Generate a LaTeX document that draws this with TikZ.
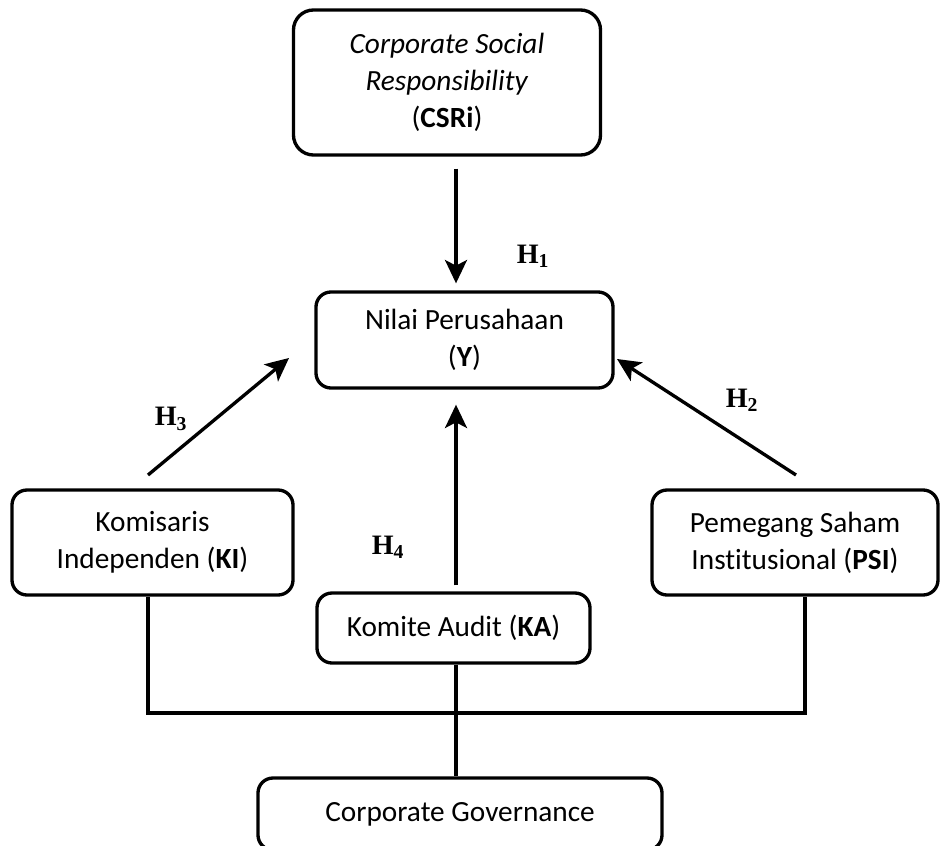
\documentclass[tikz,border=0pt]{standalone}
\usepackage{fontspec}
\setmainfont{Carlito}[Ligatures=NoCommon]
\newfontfamily\hfont{Liberation Serif}
\usetikzlibrary{arrows.meta}
\begin{document}
\begin{tikzpicture}[x=0.03cm,y=-0.03cm,
  box/.style={draw,line width=0.1cm,rounded corners=0.45cm,align=center,inner sep=0pt,
    font=\fontsize{25}{31.5}\selectfont},
  conn/.style={line width=0.1cm},
  arr/.style={conn,-{Stealth[length=0.7cm,width=0.66cm,inset=0.17cm]}},
  hyp/.style={font=\hfont\bfseries\fontsize{24}{26}\selectfont,inner sep=0pt}]
\useasboundingbox (0,0) rectangle (942,846);
\clip (0,0) rectangle (942,846);
% boxes
\node[box,minimum width=9.21cm,minimum height=4.35cm,rounded corners=0.6cm] (CSR) at (447,82.5)
  {\textit{Corporate Social}\\ \textit{Responsibility}\\(\textbf{CSRi})};
\node[box,minimum width=8.91cm,minimum height=2.88cm] (NP) at (464.5,340)
  {Nilai Perusahaan\\(\textbf{Y})};
\node[box,minimum width=8.43cm,minimum height=3.15cm] (KI) at (152.5,542.5)
  {Komisaris\\Independen (\textbf{KI})};
\node[box,minimum width=8.58cm,minimum height=3.15cm] (PSI) at (795,542.5)
  {Pemegang Saham\\Institusional (\textbf{PSI})};
\node[box,minimum width=8.19cm,minimum height=2.1cm] (KA) at (453.5,628)
  {Komite Audit (\textbf{KA})};
\node[box,minimum width=12.12cm,minimum height=2.16cm] (CG) at (460,814)
  {Corporate Governance};
% helper coordinates
\coordinate (ax) at (456,0);
\coordinate (j1) at (148,713);
\coordinate (j2) at (805,713);
\coordinate (h3s) at (148,475);
\coordinate (h3e) at (289,358);
\coordinate (h2s) at (796,475);
\coordinate (h2e) at (617,359);
% arrows
\draw[arr,shorten <=0.36cm,shorten >=0.21cm] (CSR.south -| ax) -- (NP.north -| ax);
\draw[arr,shorten <=0.18cm,shorten >=0.45cm] (KA.north -| ax) -- (NP.south -| ax);
\draw[arr] (h3s) -- (h3e);
\draw[arr] (h2s) -- (h2e);
% connectors
\draw[conn] (KI.south -| j1) -- (j1) -- (j2) -- (PSI.south -| j2);
\draw[conn] (KA.south -| ax) -- (CG.north -| ax);
% labels
\node[hyp] (H1) at (533,256) {H\textsubscript{1}};
\node[hyp] (H2) at (742,400) {H\textsubscript{2}};
\node[hyp] (H3) at (171,419) {H\textsubscript{3}};
\node[hyp] (H4) at (388,547) {H\textsubscript{4}};
\end{tikzpicture}
\end{document}
